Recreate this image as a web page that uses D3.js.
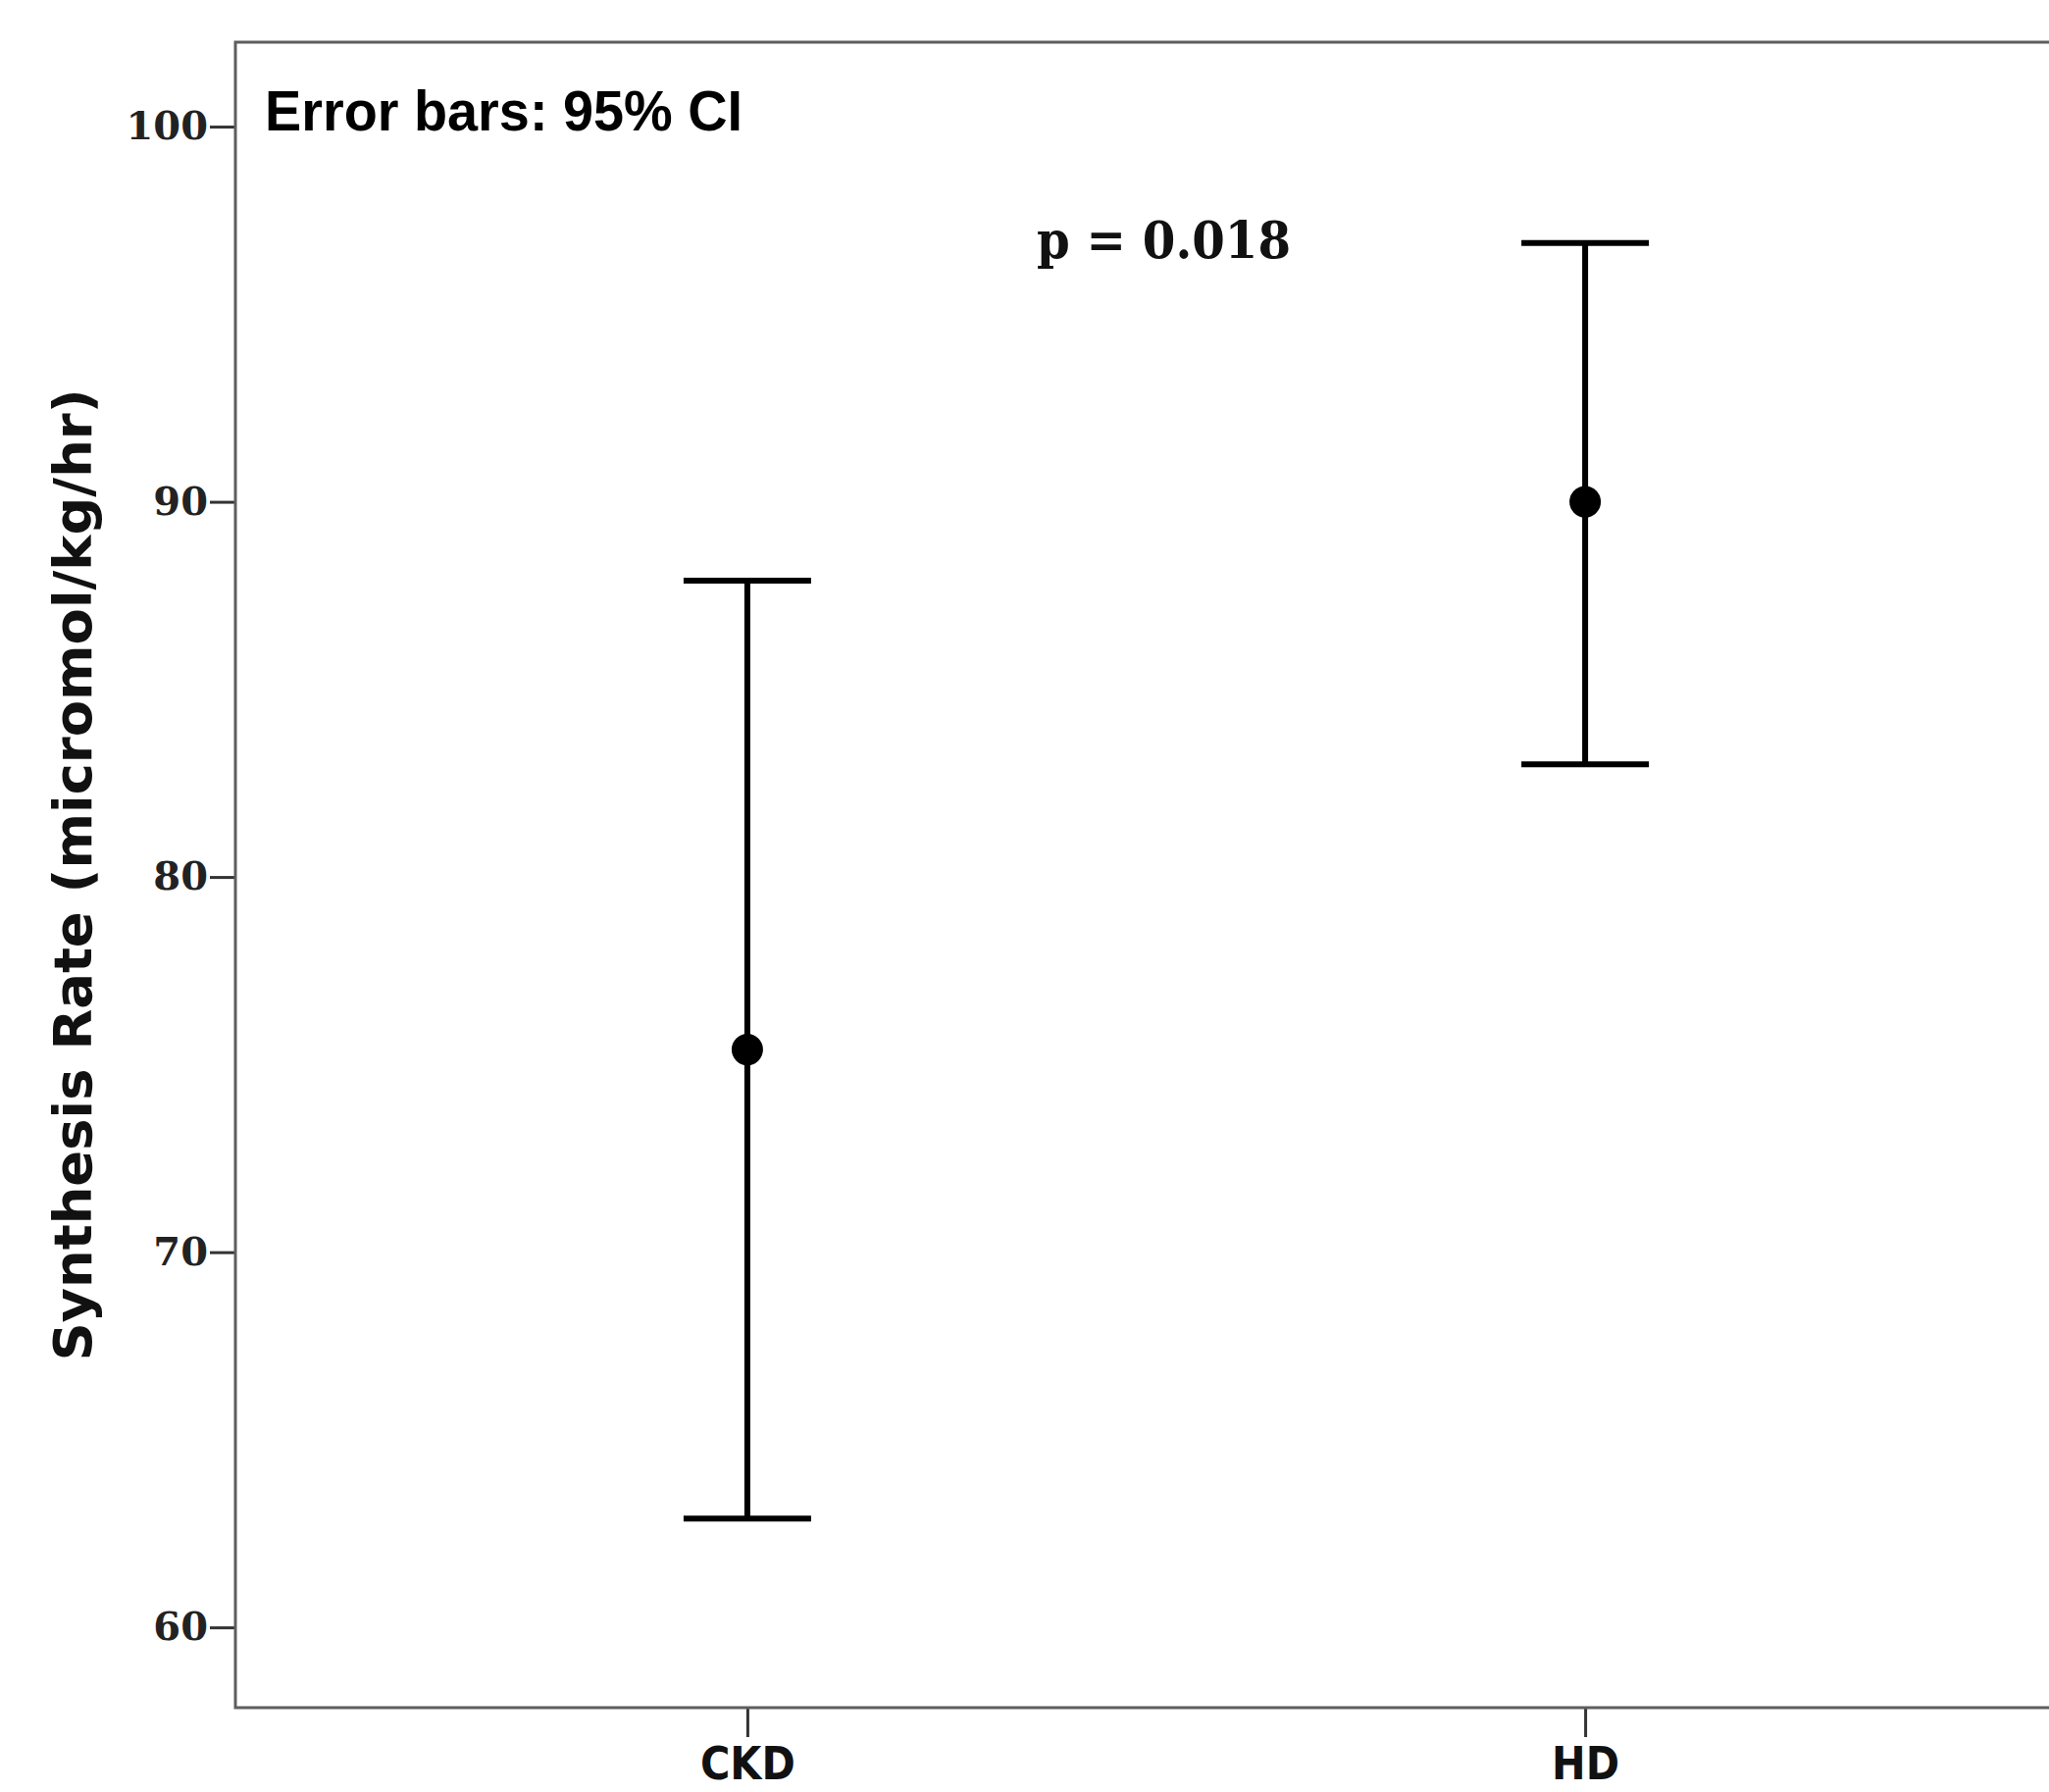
<!DOCTYPE html>
<html>
<head>
<meta charset="utf-8">
<script src="https://cdn.jsdelivr.net/npm/d3@7"></script>
<style>
  body { margin: 0; background: #fff; }
  svg { display: block; }
</style>
</head>
<body>
<script>
// data
let groups = ["CKD", "HD"];
let means = [75.4, 90.0];
let lower = [62.9, 83.0];
let upper = [87.9, 96.9];
let yTicks = [60, 70, 80, 90, 100];

let data = groups.map((g, i) => ({ group: g, mean: means[i], lo: lower[i], hi: upper[i] }));

// frame of the plot, right edge runs off the page like the original
let W = 2089, H = 1827;
let frame = { left: 240, top: 43, right: 2138, bottom: 1741 };

let x = d3.scalePoint().domain(groups).range([frame.left, frame.right]).padding(0.611);
let y = d3.scaleLinear().domain([57.86, 102.25]).range([frame.bottom, frame.top]);

let svg = d3.select("body").append("svg")
  .attr("width", W)
  .attr("height", H);

// y axis
let yAxis = svg.append("g")
  .attr("transform", "translate(" + frame.left + ",0)")
  .call(d3.axisLeft(y).tickValues(yTicks).tickSize(26).tickPadding(2));
yAxis.select(".domain").remove();
yAxis.selectAll("line").attr("stroke", "#333").attr("stroke-width", 3);
yAxis.selectAll("text")
  .attr("font-family", "DejaVu Serif")
  .attr("font-weight", "bold")
  .attr("font-size", 40)
  .attr("fill", "#222");

// x axis
let xAxis = svg.append("g")
  .attr("transform", "translate(0," + frame.bottom + ")")
  .call(d3.axisBottom(x).tickSize(30).tickPadding(10));
xAxis.select(".domain").remove();
xAxis.selectAll("line").attr("stroke", "#333").attr("stroke-width", 3);
xAxis.selectAll("text")
  .attr("font-family", "'Liberation Sans Narrow', 'DejaVu Sans Condensed', sans-serif")
  .attr("font-weight", "bold")
  .attr("font-size", 46)
  .attr("fill", "#111");

// plot frame
svg.append("rect")
  .attr("x", frame.left)
  .attr("y", frame.top)
  .attr("width", frame.right - frame.left)
  .attr("height", frame.bottom - frame.top)
  .attr("fill", "none")
  .attr("stroke", "#5e5e5e")
  .attr("stroke-width", 3);

// error bars
let capHalf = 65;
let bars = svg.append("g").selectAll("g")
  .data(data)
  .enter().append("g");

bars.append("line")
  .attr("x1", d => x(d.group))
  .attr("x2", d => x(d.group))
  .attr("y1", d => y(d.lo))
  .attr("y2", d => y(d.hi))
  .attr("stroke", "#000")
  .attr("stroke-width", 6);

bars.append("line")
  .attr("x1", d => x(d.group) - capHalf)
  .attr("x2", d => x(d.group) + capHalf)
  .attr("y1", d => y(d.hi))
  .attr("y2", d => y(d.hi))
  .attr("stroke", "#000")
  .attr("stroke-width", 6);

bars.append("line")
  .attr("x1", d => x(d.group) - capHalf)
  .attr("x2", d => x(d.group) + capHalf)
  .attr("y1", d => y(d.lo))
  .attr("y2", d => y(d.lo))
  .attr("stroke", "#000")
  .attr("stroke-width", 6);

bars.append("circle")
  .attr("cx", d => x(d.group))
  .attr("cy", d => y(d.mean))
  .attr("r", 16)
  .attr("fill", "#000");

// texts
svg.append("text")
  .attr("x", 270)
  .attr("y", 133)
  .attr("font-family", "'Liberation Sans', Arial, sans-serif")
  .attr("font-weight", "bold")
  .attr("font-size", 58)
  .attr("textLength", 487)
  .attr("lengthAdjust", "spacingAndGlyphs")
  .attr("fill", "#000")
  .text("Error bars: 95% CI");

svg.append("text")
  .attr("x", 1057)
  .attr("y", 263)
  .attr("font-family", "'DejaVu Serif', serif")
  .attr("font-weight", "bold")
  .attr("font-size", 52)
  .attr("textLength", 259)
  .attr("lengthAdjust", "spacingAndGlyphs")
  .attr("fill", "#111")
  .text("p = 0.018");

svg.append("text")
  .attr("transform", "translate(93,892) rotate(-90)")
  .attr("text-anchor", "middle")
  .attr("font-family", "'Liberation Sans Narrow', 'DejaVu Sans Condensed', sans-serif")
  .attr("font-weight", "bold")
  .attr("font-size", 54)
  .attr("textLength", 991)
  .attr("lengthAdjust", "spacingAndGlyphs")
  .attr("fill", "#111")
  .text("Synthesis Rate (micromol/kg/hr)");
</script>
</body>
</html>
